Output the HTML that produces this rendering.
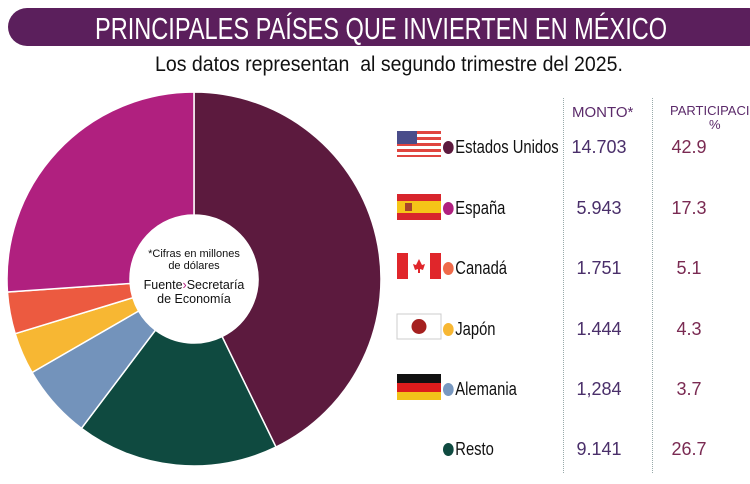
<!DOCTYPE html>
<html><head><meta charset="utf-8"><style>
body{margin:0;width:750px;height:484px;background:#fff;overflow:hidden;position:relative;font-family:"Liberation Sans",sans-serif;}
.hdr{position:absolute;left:8px;top:8px;width:760px;height:38px;background:#5b1f5c;border-radius:19px;}
.hdr span{position:absolute;left:87px;top:3px;color:#fff;font-size:31px;white-space:nowrap;transform:scaleX(0.76);transform-origin:left top;}
.sub{position:absolute;left:155px;top:53px;font-size:21px;color:#111;white-space:nowrap;transform:scaleX(0.93);transform-origin:left top;}
.t{position:absolute;white-space:nowrap;}
.name{font-size:18px;color:#111;transform:scaleX(0.82);transform-origin:left top;}
.dot{display:inline-block;width:13px;height:13px;border-radius:50%;margin-right:2px;vertical-align:-1px;}
.m{font-size:18px;color:#4a2f6a;width:80px;text-align:center;}
.p{font-size:18px;color:#7a2a52;width:60px;text-align:center;}
.vl{position:absolute;top:98px;height:375px;border-left:1px dotted #9aa;}
</style></head><body>
<div class="hdr"><span>PRINCIPALES PAÍSES QUE INVIERTEN EN MÉXICO</span></div>
<div class="sub">Los datos representan&nbsp; al segundo trimestre del 2025.</div>
<svg id="pie" width="750" height="484" style="position:absolute;left:0;top:0"></svg>
<div class="t" style="left:130px;top:248px;width:128px;text-align:center;font-size:11px;line-height:12px;color:#111;">*Cifras en millones<br>de dólares</div>
<div class="t" style="left:130px;top:278px;width:128px;text-align:center;font-size:12.5px;line-height:14px;color:#111;">Fuente<span style="color:#b0207f">›</span>Secretaría<br>de Economía</div>
<div class="vl" style="left:563px"></div><div class="vl" style="left:652px"></div>
<div class="t" style="left:572px;top:104px;font-size:15px;color:#5b2a6a;">MONTO*</div>
<div class="t" style="left:670px;top:104px;font-size:13px;color:#5b2a6a;line-height:14px;text-align:center;">PARTICIPACIO<br>%</div>
<svg width="750" height="484" style="position:absolute;left:0;top:0">
<g transform="translate(397,131)">
<rect width="44" height="26" fill="#fff"/>
<g fill="#e0453f"><rect y="0" width="44" height="3"/><rect y="6" width="44" height="3"/><rect y="12" width="44" height="3"/><rect y="18" width="44" height="3"/><rect y="24" width="44" height="2"/></g>
<rect width="20" height="13" fill="#4a4d8a"/></g>
<g transform="translate(397,194)"><rect width="44" height="26" fill="#d8252c"/><rect y="7" width="44" height="12" fill="#f5c518"/><rect x="8" y="9" width="7" height="8" fill="#a8432b"/></g>
<g transform="translate(397,253)"><rect width="44" height="26" fill="#fff"/><rect width="11" height="26" fill="#e0262b"/><rect x="33" width="11" height="26" fill="#e0262b"/><path d="M22 6 L25 12 L28 11 L26 17 L23 16 L23 20 L21 20 L21 16 L18 17 L16 11 L19 12Z" fill="#e0262b"/></g>
<g transform="translate(397,314)"><rect width="44" height="25" fill="#fff" stroke="#ccc"/><circle cx="22" cy="12.5" r="7.5" fill="#a5201f"/></g>
<g transform="translate(397,374)"><rect width="44" height="9" fill="#111"/><rect y="9" width="44" height="9" fill="#dd1c1c"/><rect y="18" width="44" height="8" fill="#f2c21a"/></g>
</svg>
<div class="t name" style="left:443px;top:137px"><span class="dot" style="background:#5c1a3e"></span>Estados Unidos</div>
<div class="t name" style="left:443px;top:198px"><span class="dot" style="background:#b0207f"></span>España</div>
<div class="t name" style="left:443px;top:258px"><span class="dot" style="background:#ef6a4a"></span>Canadá</div>
<div class="t name" style="left:443px;top:319px"><span class="dot" style="background:#f7b733"></span>Japón</div>
<div class="t name" style="left:443px;top:379px"><span class="dot" style="background:#7898c0"></span>Alemania</div>
<div class="t name" style="left:443px;top:439px"><span class="dot" style="background:#0f4a40"></span>Resto</div>
<div class="t m" style="left:559px;top:137px">14.703</div><div class="t p" style="left:659px;top:137px">42.9</div>
<div class="t m" style="left:559px;top:198px">5.943</div><div class="t p" style="left:659px;top:198px">17.3</div>
<div class="t m" style="left:559px;top:258px">1.751</div><div class="t p" style="left:659px;top:258px">5.1</div>
<div class="t m" style="left:559px;top:319px">1.444</div><div class="t p" style="left:659px;top:319px">4.3</div>
<div class="t m" style="left:559px;top:379px">1,284</div><div class="t p" style="left:659px;top:379px">3.7</div>
<div class="t m" style="left:559px;top:439px">9.141</div><div class="t p" style="left:659px;top:439px">26.7</div>
<script>
var cx=194,cy=279,R=187,r=64;
var s=[[0,154,"#5c1a3e"],[154,217,"#0f4a40"],[217,240,"#7393bb"],[240,253,"#f7b733"],[253,266,"#ec5a40"],[266,360,"#b0207f"]];
function pt(a,rad){a=a*Math.PI/180;return (cx+rad*Math.sin(a)).toFixed(2)+" "+(cy-rad*Math.cos(a)).toFixed(2);}
var h="";
s.forEach(function(x){var l=(x[1]-x[0])>180?1:0;
h+='<path fill="'+x[2]+'" stroke="#fff" stroke-width="1.5" d="M'+pt(x[0],R)+' A'+R+' '+R+' 0 '+l+' 1 '+pt(x[1],R)+' L'+pt(x[1],r)+' A'+r+' '+r+' 0 '+l+' 0 '+pt(x[0],r)+'Z"/>';});
document.getElementById("pie").innerHTML=h;
</script>
</body></html>
